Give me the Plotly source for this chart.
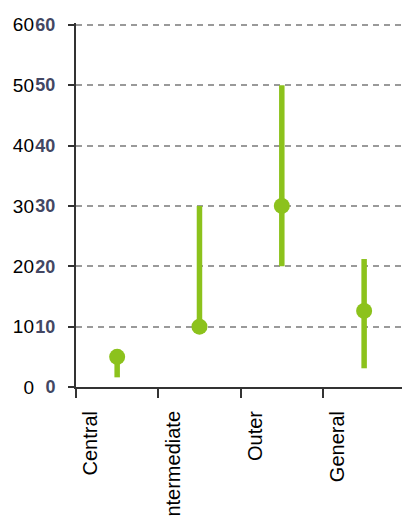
import plotly.graph_objects as go

categories = ["Central", "Intermediate", "Outer", "General"]
point_values = [5.0, 10.0, 30.0, 12.6]
upper_values = [5.0, 30.0, 50.0, 21.2]
lower_values = [1.6, 10.0, 20.0, 3.1]
y_ticks = [0, 10, 20, 30, 40, 50, 60]

x_pos = list(range(len(categories)))
err_plus = [u - p for u, p in zip(upper_values, point_values)]
err_minus = [p - l for p, l in zip(point_values, lower_values)]

green = "#8cc21c"
axis_col = "#333333"
font_family = "Liberation Sans, Arial, sans-serif"

fig = go.Figure()
fig.add_trace(go.Scatter(
    x=x_pos, y=point_values, mode="markers",
    marker=dict(color=green, size=16),
    error_y=dict(type="data", symmetric=False, array=err_plus, arrayminus=err_minus,
                 color=green, thickness=5.5, width=0),
    showlegend=False, cliponaxis=False, hoverinfo="skip",
))
# invisible helper trace so the label axes are drawn
fig.add_trace(go.Scatter(
    x=x_pos, y=point_values, xaxis="x2", yaxis="y2", mode="markers",
    marker=dict(opacity=0), showlegend=False, hoverinfo="skip",
))

fig.update_layout(
    width=402, height=517,
    margin=dict(l=0, r=0, t=23, b=130),
    paper_bgcolor="white", plot_bgcolor="white",
    xaxis=dict(
        domain=[76/402, 1], range=[-0.5, 3.46], automargin=False,
        tickvals=[-0.5, 0.5, 1.5, 2.5], ticktext=["", "", "", ""],
        ticks="outside", ticklen=9, tickwidth=2, tickcolor=axis_col,
        showline=True, linecolor=axis_col, linewidth=2,
        showgrid=False, zeroline=False,
    ),
    xaxis2=dict(
        overlaying="x", matches="x", anchor="y", side="bottom", automargin=False,
        tickvals=[x - 0.32 for x in x_pos], ticktext=categories,
        tickangle=-90, ticks="outside", ticklen=15, tickcolor="rgba(0,0,0,0)",
        showline=False, showgrid=False, zeroline=False,
        tickfont=dict(family=font_family, size=20, color="#000000"),
    ),
    yaxis=dict(
        range=[0, 60.3], tickvals=y_ticks, automargin=False,
        ticks="outside", ticklen=6, tickwidth=2, tickcolor=axis_col,
        showline=True, linecolor=axis_col, linewidth=2,
        showgrid=True, gridcolor="#9a9a9a", gridwidth=2, griddash="6px,5px",
        zeroline=False,
        ticklabelstandoff=9,
        tickfont=dict(family=font_family, size=18, color="#434763", weight="bold"),
    ),
    yaxis2=dict(
        overlaying="y", matches="y", anchor="free", position=34/402, side="left",
        tickvals=y_ticks, automargin=False,
        ticks="", showline=False, showgrid=False, zeroline=False,
        tickfont=dict(family=font_family, size=19, color="#000000"),
    ),
)

fig.write_html("out.html")
